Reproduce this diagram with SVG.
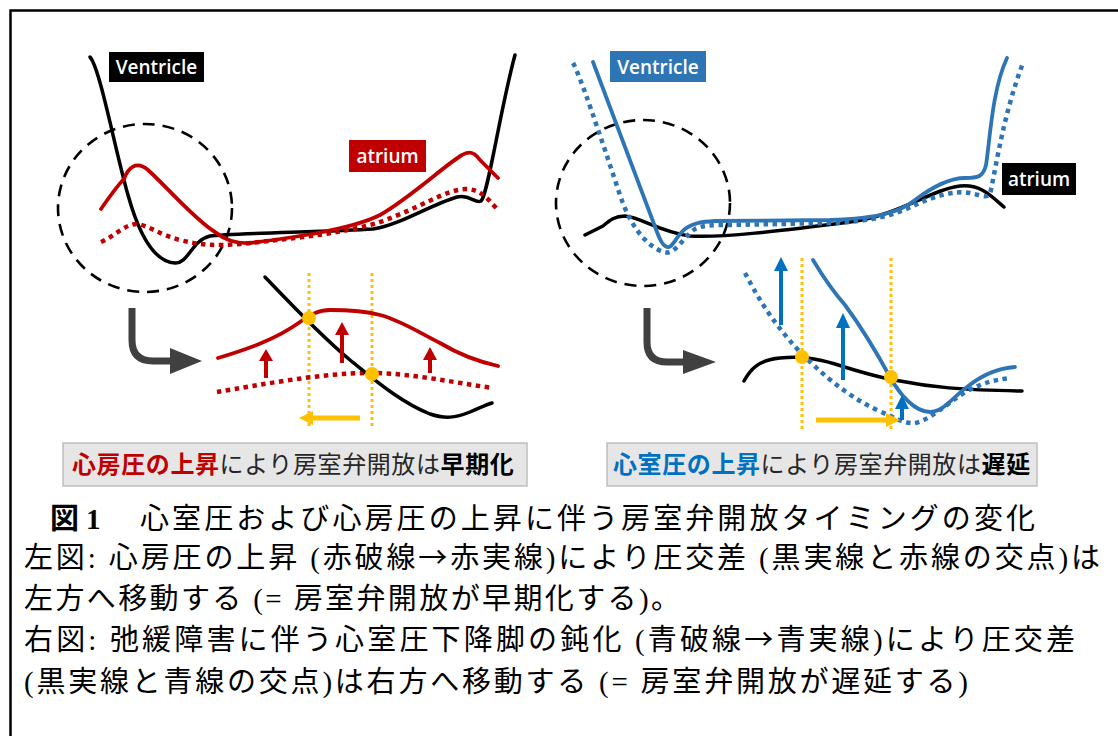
<svg xmlns="http://www.w3.org/2000/svg" width="1118" height="736" viewBox="0 0 1118 736">
<style>
.k{fill:none;stroke:#000;stroke-width:3.5;stroke-linecap:round;stroke-linejoin:round}
.r{fill:none;stroke:#c00000;stroke-width:3.8;stroke-linecap:round;stroke-linejoin:round}
.rd{fill:none;stroke:#c00000;stroke-width:4.5;stroke-dasharray:4.5 4.5}
.b{fill:none;stroke:#2e75b6;stroke-width:3.8;stroke-linecap:round;stroke-linejoin:round}
.bd{fill:none;stroke:#2e75b6;stroke-width:4.5;stroke-dasharray:4.5 4.5}
.circ{fill:none;stroke:#000;stroke-width:2.6;stroke-dasharray:12 8}
.yv{fill:none;stroke:#ffc000;stroke-width:3;stroke-dasharray:3 3}
.dot{fill:#ffc000}
.lbl{font-family:"Open Sans","Noto Sans",sans-serif;font-weight:600;font-size:19px;fill:#fff;text-anchor:middle}
.box{fill:#e7e6e6;stroke:#bfbfbf;stroke-width:1.5}
.cap{font-family:"Noto Sans CJK JP",sans-serif;font-size:24px;letter-spacing:0.6px;fill:#262626}
.body{font-family:"Liberation Serif","Noto Sans CJK JP",serif;font-size:29px;fill:#000}
.ar{font-family:"Noto Sans CJK JP",sans-serif}
.ga{fill:none;stroke:#404040;stroke-width:7}
</style>
<rect x="10.5" y="10.5" width="1200" height="800" fill="#fff" stroke="#000" stroke-width="2.5"/>

<g id="left-panel">
  <ellipse class="circ" cx="145" cy="208" rx="87" ry="84"/>
  <path class="k" d="M90,57 C100,68 115,150 128,195 C140,238 155,262 175,263 C188,264 192,240 210,236 C230,233 330,232 373,229 C400,225 430,205 457,197 C470,194 475,204 481,201 C488,195 500,110 515,55"/>
  <path class="rd" d="M101,242 C115,236 125,224 137,224 C150,226 160,235 180,240 C200,245 215,246 240,244 C300,238 350,232 380,222 C420,208 445,190 465,189 C478,189 485,195 497,209"/>
  <path class="r" d="M101,209 C110,196 118,185 124,179 C128,168 136,160 148,170 C165,185 195,220 215,232 C225,240 235,244 250,243 C290,238 350,230 380,215 C410,198 445,165 462,155 C470,150 475,153 480,160 L498,178"/>
  <g id="label-ventricle-left"><rect x="109" y="52" width="95" height="30" fill="#000"/><text class="lbl" x="156.5" y="74">Ventricle</text></g>
  <g id="label-atrium-left"><rect x="349" y="140" width="77" height="32" fill="#c00000"/><text class="lbl" x="387.5" y="163">atrium</text></g>
</g>

<g id="right-panel">
  <ellipse class="circ" cx="643" cy="203" rx="87" ry="83"/>
  <path class="k" d="M585,235 L603,226 C610,220 615,216 625,216 C640,217 660,232 690,236 C720,238 780,231 850,222 C900,215 930,190 960,186 C980,184 990,195 1004,207"/>
  <path class="bd" d="M573,63 C580,75 600,135 620,195 C630,225 645,245 663,252 C675,256 682,238 695,229 C703,225 712,225 730,225 L830,223 C870,222 895,215 915,205 C935,196 955,190 970,193 C985,196 988,200 991,190 C997,160 1005,110 1023,63"/>
  <path class="b" d="M593,62 L657,232 C661,243 665,248 669,247 C674,246 678,232 688,227 C695,223 700,222 715,221 L830,220 C880,218 900,212 915,200 C935,185 950,178 965,178 C978,178 983,177 986,165 C990,140 992,90 1007,58"/>
  <g id="label-ventricle-right"><rect x="610" y="51" width="96" height="31" fill="#2e75b6"/><text class="lbl" x="658" y="74">Ventricle</text></g>
  <g id="label-atrium-right"><rect x="1002" y="163" width="74" height="32" fill="#000"/><text class="lbl" x="1039" y="186">atrium</text></g>
</g>

<g id="left-inset">
  <path class="ga" d="M132,308 V340 Q132,361 153,361 H173"/>
  <polygon points="170,348 202,361 170,374" fill="#404040"/>
  <line class="yv" x1="309" y1="273" x2="309" y2="428"/>
  <line class="yv" x1="372" y1="273" x2="372" y2="428"/>
  <path class="rd" d="M217,392 C260,385 320,373 370,373 C410,373 450,382 493,388"/>
  <path class="k" d="M265,277 C285,298 320,335 350,360 C375,380 400,402 430,414 C445,419 455,418 470,412 C480,408 485,405 492,403"/>
  <path class="r" d="M218,358 C245,350 275,340 300,322 C310,315 318,310 330,310 C345,310 365,311 380,315 C400,320 420,333 440,343 C460,355 480,362 498,366"/>
  <g fill="#c00000" stroke="#c00000">
    <line x1="266" y1="378" x2="266" y2="358" stroke-width="4"/><polygon points="259,361 273,361 266,349" stroke="none"/>
    <line x1="342" y1="363" x2="342" y2="332" stroke-width="4"/><polygon points="335,335 349,335 342,322" stroke="none"/>
    <line x1="430" y1="373" x2="430" y2="357" stroke-width="4"/><polygon points="423,360 437,360 430,347" stroke="none"/>
  </g>
  <circle class="dot" cx="309" cy="318" r="7"/>
  <circle class="dot" cx="372" cy="374" r="7"/>
  <line x1="360" y1="418" x2="310" y2="418" stroke="#ffc000" stroke-width="5"/>
  <polygon points="313,411 313,425 299,418" fill="#ffc000"/>
</g>

<g id="right-inset">
  <path class="ga" d="M647,308 V342 Q647,362 667,362 H686"/>
  <polygon points="683,350 716,362 683,374" fill="#404040"/>
  <line class="yv" x1="802" y1="258" x2="802" y2="432"/>
  <line class="yv" x1="891" y1="258" x2="891" y2="432"/>
  <path class="k" d="M744,381 C750,370 758,360 780,358 C800,356 815,358 835,364 C860,372 880,378 900,381 C930,387 960,390 1022,391"/>
  <path class="bd" d="M745,273 C755,292 770,320 800,352 C820,372 845,395 877,410 C895,418 905,424 915,423 C930,420 945,405 967,391 C985,382 995,380 1010,378"/>
  <path class="b" d="M813,260 C822,275 830,288 845,305 C862,328 878,355 890,377 C900,395 915,412 930,412 C943,412 952,398 967,387 C982,375 1000,368 1015,367"/>
  <g fill="#0070c0" stroke="#0070c0">
    <line x1="781" y1="325" x2="781" y2="268" stroke-width="4"/><polygon points="774,271 788,271 781,257" stroke="none"/>
    <line x1="843" y1="380" x2="843" y2="325" stroke-width="4"/><polygon points="836,328 850,328 843,313" stroke="none"/>
    <line x1="902" y1="420" x2="902" y2="406" stroke-width="4"/><polygon points="895,409 909,409 902,395" stroke="none"/>
  </g>
  <line x1="816" y1="420" x2="888" y2="420" stroke="#ffc000" stroke-width="5"/>
  <polygon points="886,413 886,427 900,420" fill="#ffc000"/>
  <circle class="dot" cx="802" cy="357" r="7"/>
  <circle class="dot" cx="891" cy="377" r="7"/>
</g>

<g id="caption-left">
  <rect class="box" x="63" y="443" width="464" height="43"/>
  <text class="cap" x="72" y="473"><tspan fill="#c00000" font-weight="bold">心房圧の上昇</tspan>により房室弁開放は<tspan font-weight="bold" fill="#000">早期化</tspan></text>
</g>
<g id="caption-right">
  <rect class="box" x="607" y="443" width="430" height="43"/>
  <text class="cap" x="613" y="473"><tspan fill="#0070c0" font-weight="bold">心室圧の上昇</tspan>により房室弁開放は<tspan font-weight="bold" fill="#000">遅延</tspan></text>
</g>

<g id="figure-text">
  <text class="body" x="50" y="529" font-weight="bold">図</text>
  <text class="body" x="86" y="529" font-weight="bold">1</text>
  <text class="body" x="140" y="529" textLength="895" lengthAdjust="spacing">心室圧および心房圧の上昇に伴う房室弁開放タイミングの変化</text>
  <text class="body" x="24" y="568" textLength="1076" lengthAdjust="spacing">左図: 心房圧の上昇 (赤破線<tspan class="ar">→</tspan>赤実線)により圧交差 (黒実線と赤線の交点)は</text>
  <text class="body" x="24" y="609" textLength="656" lengthAdjust="spacing">左方へ移動する (= 房室弁開放が早期化する)。</text>
  <text class="body" x="24" y="650" textLength="1051" lengthAdjust="spacing">右図: 弛緩障害に伴う心室圧下降脚の鈍化 (青破線<tspan class="ar">→</tspan>青実線)により圧交差</text>
  <text class="body" x="24" y="692" textLength="944" lengthAdjust="spacing">(黒実線と青線の交点)は右方へ移動する (= 房室弁開放が遅延する)</text>
</g>
</svg>
